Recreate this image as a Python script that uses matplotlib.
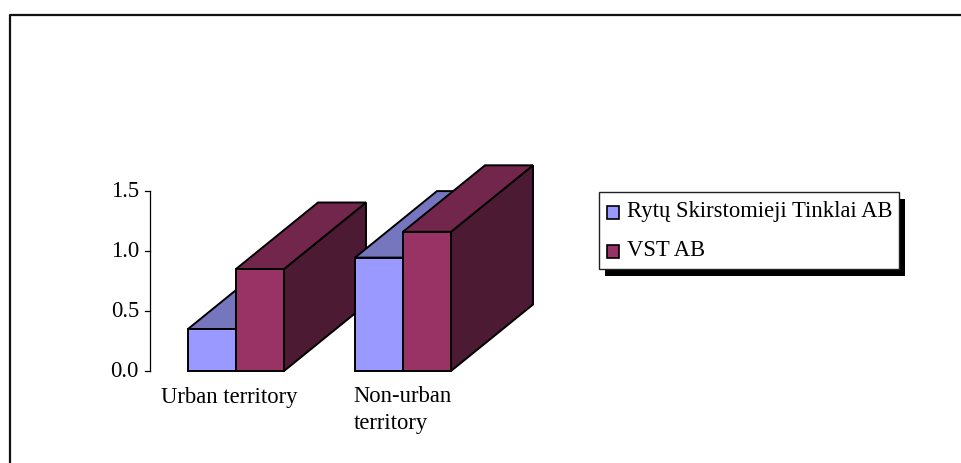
import matplotlib
matplotlib.use("Agg")
import matplotlib.pyplot as plt
from matplotlib.patches import Polygon, Rectangle

categories = ["Urban territory", "Non-urban", "territory"]
series_names = ["Rytų Skirstomieji Tinklai AB", "VST AB"]
rytu_values = [0.35, 0.945]
vst_values = [0.85, 1.16]
y_ticks = [0.0, 0.5, 1.0, 1.5]

front_colors = ["#9999ff", "#993366"]
top_colors = ["#7676bf", "#72264c"]
side_colors = ["#5c5c99", "#4d1a33"]

W, H = 962, 463
plt.rcParams["font.family"] = "Liberation Serif"
FS = 16.3
fig = plt.figure(figsize=(W / 100, H / 100), dpi=100)
bg = fig.add_axes([0, 0, 1, 1])
bg.set_xlim(0, W)
bg.set_ylim(H, 0)
bg.axis("off")

# Outer chart frame: only the top and left edges fall inside the canvas
bg.plot([10.5, 10.5, 970], [470, 15, 15], color="#111111", lw=1.6)

# Value axis runs from 0 at y=371 to 1.5 at y=191
y0, unit = 371.0, 120.0
ax_x = 150.5
bg.plot([ax_x, ax_x], [y0, y0 - 1.5 * unit], color="black", lw=0.9)
for t in y_ticks:
    y = y0 - t * unit
    bg.plot([ax_x - 5.5, ax_x], [y, y], color="black", lw=0.9)
    bg.text(ax_x - 11.5, y + 0.8, f"{t:.1f}", ha="right", va="center", fontsize=FS, color="black")

bar_w = 48.0
dx, dy = 82.0, -66.5
group_left = [188.0, 355.0]


def draw_bar(x, value, idx, z):
    top = y0 - value * unit
    edge = dict(edgecolor="black", lw=1.4, joinstyle="miter", zorder=z)
    bg.add_patch(Polygon([(x + bar_w, y0), (x + bar_w + dx, y0 + dy),
                          (x + bar_w + dx, top + dy), (x + bar_w, top)],
                         facecolor=side_colors[idx], **edge))
    bg.add_patch(Polygon([(x, top), (x + dx, top + dy),
                          (x + bar_w + dx, top + dy), (x + bar_w, top)],
                         facecolor=top_colors[idx], **edge))
    bg.add_patch(Rectangle((x, top), bar_w, y0 - top, facecolor=front_colors[idx], **edge))


for g, left in enumerate(group_left):
    z = 3 + 3 * g
    draw_bar(left, rytu_values[g], 0, z)
    draw_bar(left + bar_w, vst_values[g], 1, z + 1)

# Category labels sit below the baseline, left aligned where they wrap
bg.text(229, 398, categories[0], ha="center", va="center", fontsize=FS)
bg.text(353.5, 396, categories[1], ha="left", va="center", fontsize=FS)
bg.text(353.5, 423.5, categories[2], ha="left", va="center", fontsize=FS)

# Legend box with a solid drop shadow
lx, ly, lw_, lh = 599, 192, 300, 76.5
bg.add_patch(Rectangle((lx + 6, ly + 7), lw_, lh, facecolor="black", edgecolor="none", zorder=10))
bg.add_patch(Rectangle((lx, ly), lw_, lh, facecolor="white", edgecolor="#222222", lw=1.0, zorder=11))
for i, name in enumerate(series_names):
    cy = 212.5 + i * 39
    bg.add_patch(Rectangle((607, cy - 6.5), 12.5, 13, facecolor=front_colors[i],
                           edgecolor="black", lw=1.2, zorder=12))
    bg.text(627, cy - 0.7, name, ha="left", va="center", fontsize=FS, zorder=12)

fig.savefig("out.png", dpi=100, facecolor="white")
